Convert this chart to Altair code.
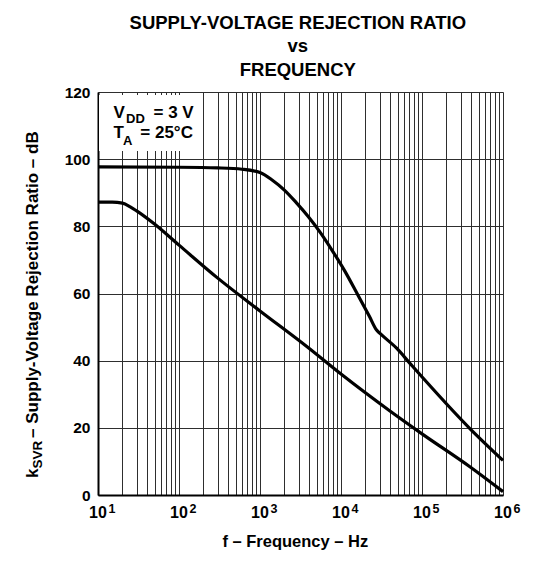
import altair as alt
import pandas as pd

# ---- data ----
upper_freq = [10, 100, 300, 600, 1000, 1410, 2000, 2820, 3980, 5620, 7940, 11200,
              15800, 22400, 27500, 30300, 48600, 71000, 390000, 1000000]
upper_db = [97.7, 97.6, 97.4, 97.0, 96.0, 93.8, 90.8, 87.0, 82.8, 78.0, 72.5, 66.6,
            60.0, 53.2, 49.1, 48.1, 43.7, 39.2, 19.8, 10.3]

lower_freq = [10, 15, 20, 25, 30, 48.5, 100, 293, 1000, 3780, 10000, 40200,
              100000, 390000, 1000000]
lower_db = [87.2, 87.2, 86.9, 85.8, 84.6, 80.9, 74.4, 64.8, 54.8, 44.2, 36.0, 25.0,
            18.2, 8.4, 1.0]

y_ticks = [0, 20, 40, 60, 80, 100, 120]
decades = [10, 100, 1000, 10000, 100000, 1000000]
decade_base = ["10"] * 6
decade_exp = ["1", "2", "3", "4", "5", "6"]
grid_freq = [m * d for d in [10, 100, 1000, 10000, 100000] for m in range(1, 10)] + [1000000]

title_lines = ["SUPPLY-VOLTAGE REJECTION RATIO", "vs", "FREQUENCY"]
x_title = "f – Frequency – Hz"
y_title_parts = ["k", "SVR", " – Supply-Voltage Rejection Ratio – dB"]
cond_parts = ["V", "DD", "= 3 V", "T", "A", "= 25°C"]

FONT = "Liberation Sans"
W, H = 405, 403

curves = pd.concat([
    pd.DataFrame({"f": upper_freq, "db": upper_db, "s": "upper"}),
    pd.DataFrame({"f": lower_freq, "db": lower_db, "s": "lower"}),
])

xscale = alt.Scale(type="log", domain=[10, 1000000], nice=False)
yscale = alt.Scale(domain=[0, 120], nice=False)

x_axis = alt.Axis(values=grid_freq, labels=False, ticks=False, title=None,
                  grid=True, gridColor="#2e2e2e", gridWidth=1, gridOpacity=1,
                  domain=True, domainColor="black", domainWidth=2)
y_axis = alt.Axis(values=y_ticks, ticks=False, title=None, grid=True,
                  gridColor="#2e2e2e", gridWidth=1, gridOpacity=1,
                  domain=True, domainColor="black", domainWidth=2,
                  labelFont=FONT, labelFontWeight="bold", labelFontSize=15.5,
                  labelColor="black", labelPadding=8)

lines = alt.Chart(curves).mark_line(color="black", strokeWidth=3.2, interpolate="monotone").encode(
    x=alt.X("f:Q", scale=xscale, axis=x_axis),
    y=alt.Y("db:Q", scale=yscale, axis=y_axis),
    detail="s:N",
)

one = pd.DataFrame({"a": [0]})

def txt(text, x, y, size, align="left", angle=0):
    kw = dict(text=text, font=FONT, fontWeight="bold", fontSize=size, color="black",
              align=align, baseline="alphabetic")
    if angle:
        kw["angle"] = angle
    return alt.Chart(one).mark_text(**kw).encode(x=alt.value(x), y=alt.value(y))

box = alt.Chart(one).mark_rect(color="white").encode(
    x=alt.value(1), x2=alt.value(105), y=alt.value(3), y2=alt.value(59))

ticks_df = pd.DataFrame({"f": decades, "base": decade_base, "exp": decade_exp})
tick_base = alt.Chart(ticks_df).mark_text(
    font=FONT, fontWeight="bold", fontSize=16, color="black", align="center",
    baseline="alphabetic").encode(
    x=alt.X("f:Q", scale=xscale), y=alt.value(H + 23), text="base:N")
tick_exp = alt.Chart(ticks_df).mark_text(
    font=FONT, fontWeight="bold", fontSize=12.5, color="black", align="left",
    baseline="alphabetic", dx=10.5).encode(
    x=alt.X("f:Q", scale=xscale), y=alt.value(H + 17.5), text="exp:N")

layers = [
    box,
    lines,
    tick_base,
    tick_exp,
    txt(title_lines[0], 199.8, -63, 18.5, "center"),
    txt(title_lines[1], 199.8, -40.3, 18.5, "center"),
    txt(title_lines[2], 199.8, -16, 18.5, "center"),
    txt(x_title, 197.3, H + 51.7, 16.5, "center"),
    txt(y_title_parts[0], -60, 386, 17, "left", 270),
    txt(y_title_parts[1], -56, 376.5, 13.5, "left", 270),
    txt(y_title_parts[2], -60, 346, 17, "left", 270),
    txt(cond_parts[0], 15.6, 26, 17),
    txt(cond_parts[1], 28, 30.5, 13),
    txt(cond_parts[2], 55.5, 26, 17),
    txt(cond_parts[3], 15.6, 46, 17),
    txt(cond_parts[4], 25, 53, 13),
    txt(cond_parts[5], 42.3, 46, 17),
]

chart = alt.layer(*layers).properties(
    width=W, height=H,
    padding={"left": 90, "top": 84, "right": 20, "bottom": 60},
    autosize=alt.AutoSizeParams(type="none"),
).configure_view(stroke="black", strokeWidth=1).configure(background="white")

chart.save("out.html", embed_options={"renderer": "svg", "actions": False})
